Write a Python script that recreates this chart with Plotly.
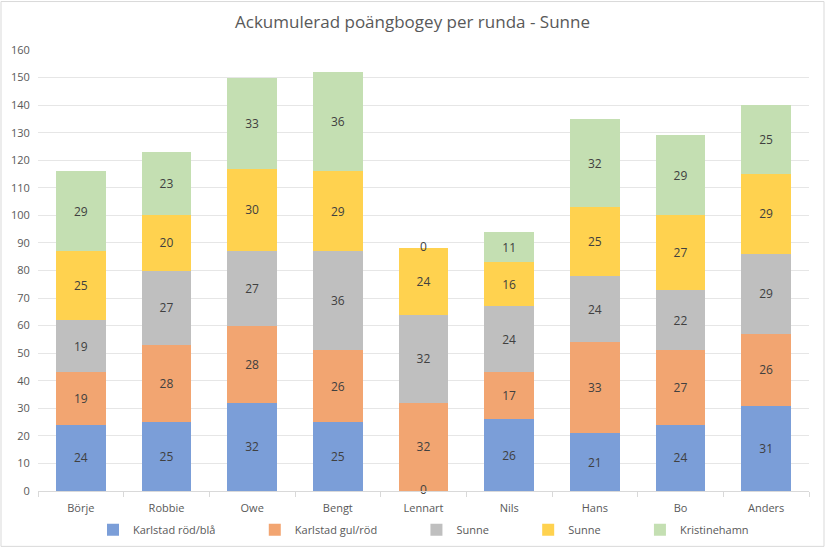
import plotly.graph_objects as go

# spelare och poäng per bana
players = ["Börje", "Robbie", "Owe", "Bengt", "Lennart", "Nils", "Hans", "Bo", "Anders"]
series_names = ["Karlstad röd/blå", "Karlstad gul/röd", "Sunne", "Sunne", "Kristinehamn"]
karlstad_rb = [24, 25, 32, 25, 0, 26, 21, 24, 31]
karlstad_gr = [19, 28, 28, 26, 32, 17, 33, 27, 26]
sunne_1 = [19, 27, 27, 36, 32, 24, 24, 22, 29]
sunne_2 = [25, 20, 30, 29, 24, 16, 25, 27, 29]
kristinehamn = [29, 23, 33, 36, 0, 11, 32, 29, 25]

colors = ["#7B9ED8", "#F2A571", "#BFBFBF", "#FFD24F", "#C4DFB2"]
all_series = [karlstad_rb, karlstad_gr, sunne_1, sunne_2, kristinehamn]

pad = "\u00a0" * 12  # extra luft mellan legendposterna
fig = go.Figure()
for k, (name, vals, col) in enumerate(zip(series_names, all_series, colors)):
    fig.add_trace(go.Bar(
        x=players, y=vals, name=name + (pad if k < 4 else ""),
        marker=dict(color=col, line=dict(width=0)),
        text=[str(v) if v else "" for v in vals],
        textposition="inside", insidetextanchor="middle",
        textfont=dict(color="#404040", size=12),
        constraintext="none",
    ))

# nollvärden visas som etiketter vid staplens position
zx, zy = [], []
base = [0] * len(players)
for vals in all_series:
    for i, v in enumerate(vals):
        if v == 0:
            zx.append(players[i])
            zy.append(base[i])
        base[i] += v
fig.add_trace(go.Scatter(x=zx, y=zy, mode="text", text=["0"] * len(zx),
                         textfont=dict(color="#404040", size=12), cliponaxis=False,
                         showlegend=False, hoverinfo="skip"))

fig.update_layout(
    width=825, height=556,
    barmode="stack", bargap=0.42,
    plot_bgcolor="white", paper_bgcolor="white",
    font=dict(family="Open Sans", color="#595959", size=11),
    title=dict(text="Ackumulerad poängbogey per runda - Sunne", x=0.5, xanchor="center",
               y=0.96, yanchor="middle", font=dict(size=17, color="#595959")),
    margin=dict(l=38, r=16, t=50, b=60),
    legend=dict(orientation="h", x=0.5, xanchor="center", y=-0.055, yanchor="top",
                traceorder="normal", font=dict(size=11, color="#595959")),
    shapes=[dict(type="rect", xref="paper", yref="paper",
                 x0=-37 / 771, x1=1 + 15 / 771, y0=-56 / 446, y1=1 + 49 / 446,
                 line=dict(color="#D9D9D9", width=1))],
)
fig.update_yaxes(range=[0, 160], dtick=10, gridcolor="#E6E6E6", zeroline=False,
                 showline=False, ticks="outside", ticklen=5, tickcolor="white",
                 automargin=False, tickfont=dict(size=11, color="#595959"))
fig.update_xaxes(showline=True, linecolor="#D9D9D9", ticks="outside", tickson="boundaries",
                 tickcolor="#D9D9D9", ticklen=5, automargin=False, ticklabelstandoff=7,
                 tickfont=dict(size=11, color="#595959"))

fig.write_html("out.html", config={"displayModeBar": False},
               post_script="document.body.style.margin='0';")
